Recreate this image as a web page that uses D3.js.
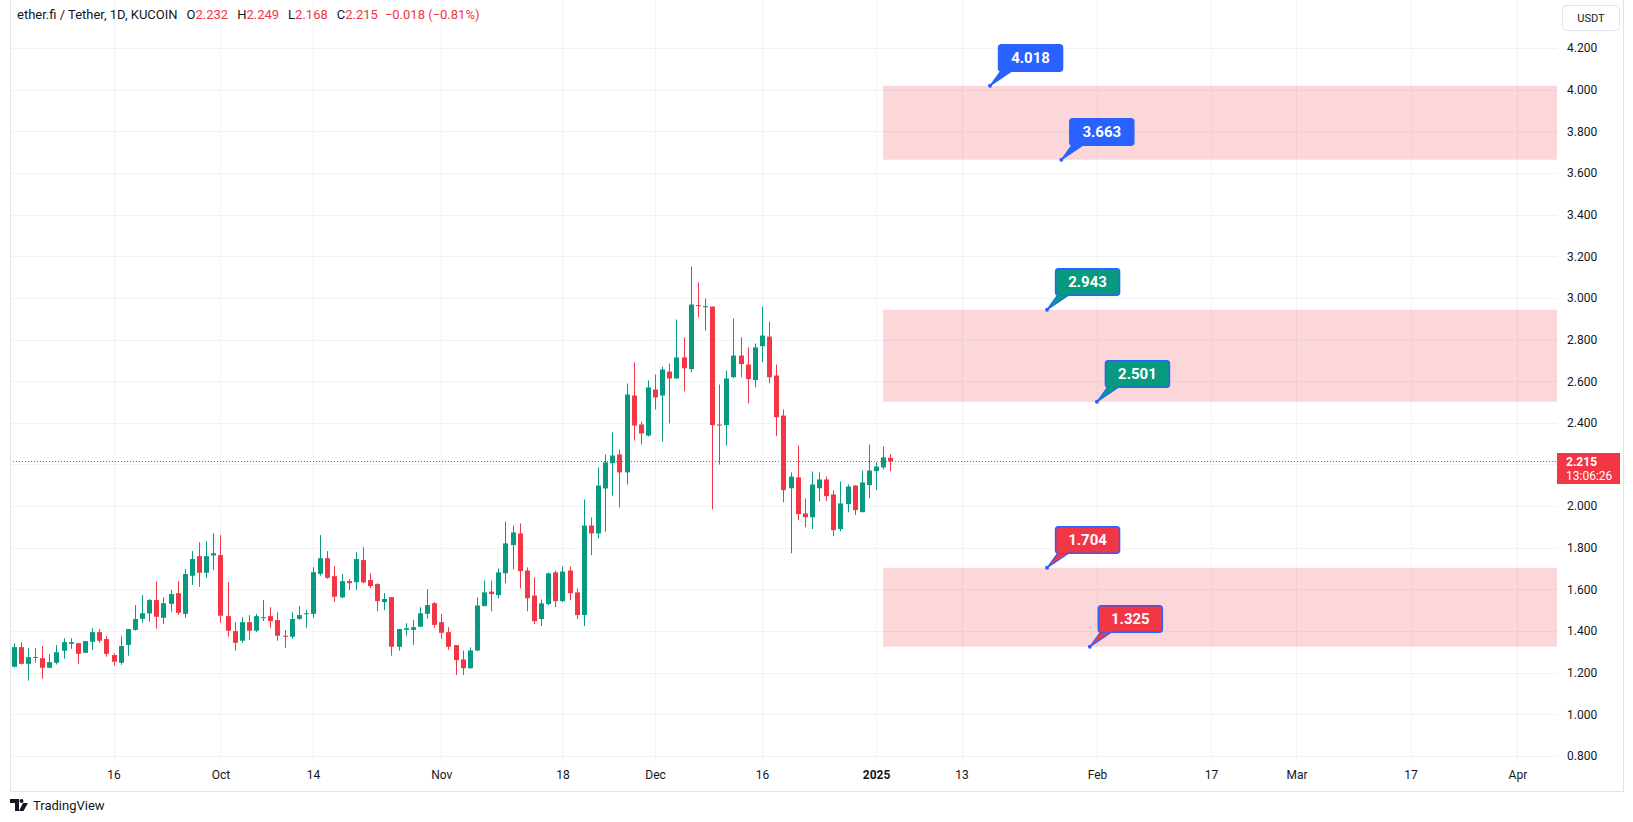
<!DOCTYPE html>
<html><head><meta charset="utf-8">
<script src="https://cdn.jsdelivr.net/npm/d3@7"></script>
<style>
body{margin:0;background:#fff;}
svg{display:block;font-family:Roboto,"Noto Sans",sans-serif;}
</style></head><body>
<svg id="c" width="1633" height="822"></svg>
<script>
// ---------- data ----------
const startDate = "2024-09-02"; // first daily candle
const openV = [1.229,1.323,1.243,1.276,1.270,1.224,1.248,1.306,1.339,1.342,1.296,1.349,1.395,1.362,1.285,1.248,1.334,1.406,1.459,1.485,1.549,1.464,1.531,1.582,1.483,1.666,1.760,1.680,1.763,1.765,1.472,1.400,1.354,1.443,1.402,1.462,1.472,1.453,1.378,1.373,1.459,1.482,1.483,1.675,1.750,1.664,1.562,1.640,1.635,1.741,1.645,1.626,1.539,1.563,1.325,1.406,1.406,1.421,1.483,1.534,1.443,1.395,1.333,1.264,1.222,1.307,1.520,1.590,1.573,1.678,1.813,1.869,1.691,1.571,1.458,1.530,1.682,1.544,1.691,1.586,1.477,1.907,1.869,2.085,2.206,2.248,2.162,2.531,2.392,2.339,2.560,2.531,2.646,2.613,2.714,2.658,2.965,2.955,2.958,2.392,2.389,2.619,2.723,2.680,2.605,2.768,2.814,2.627,2.435,2.086,2.138,1.965,1.947,2.086,2.128,2.056,1.890,2.010,2.099,1.971,2.101,2.168,2.186,2.232];
const highV = [1.342,1.347,1.318,1.318,1.328,1.290,1.333,1.366,1.366,1.342,1.353,1.414,1.410,1.376,1.294,1.376,1.410,1.525,1.573,1.554,1.640,1.563,1.597,1.640,1.698,1.784,1.827,1.832,1.870,1.861,1.635,1.443,1.467,1.477,1.482,1.549,1.515,1.491,1.405,1.491,1.520,1.501,1.707,1.861,1.784,1.712,1.674,1.650,1.779,1.803,1.678,1.630,1.582,1.563,1.410,1.438,1.453,1.515,1.602,1.539,1.482,1.419,1.333,1.307,1.322,1.562,1.643,1.643,1.701,1.926,1.907,1.917,1.706,1.658,1.552,1.682,1.691,1.710,1.710,1.605,2.032,1.946,2.186,2.248,2.354,2.272,2.589,2.690,2.406,2.603,2.632,2.670,2.685,2.896,2.810,3.150,3.074,2.997,2.958,2.584,2.651,2.901,2.810,2.762,2.781,2.958,2.886,2.680,2.464,2.162,2.291,2.037,2.166,2.162,2.142,2.075,2.118,2.104,2.099,2.171,2.296,2.210,2.286,2.249];
const lowV = [1.225,1.240,1.162,1.248,1.171,1.222,1.240,1.267,1.315,1.243,1.295,1.310,1.344,1.277,1.234,1.238,1.282,1.402,1.440,1.445,1.411,1.435,1.493,1.478,1.464,1.622,1.613,1.656,1.693,1.440,1.373,1.306,1.344,1.358,1.395,1.448,1.416,1.354,1.320,1.363,1.454,1.416,1.464,1.666,1.651,1.541,1.558,1.597,1.597,1.629,1.606,1.496,1.501,1.282,1.306,1.378,1.334,1.421,1.459,1.416,1.363,1.310,1.190,1.189,1.220,1.304,1.520,1.496,1.558,1.630,1.696,1.605,1.496,1.434,1.424,1.525,1.515,1.539,1.549,1.458,1.424,1.765,1.845,1.878,2.051,1.994,2.104,2.315,2.296,2.334,2.464,2.310,2.397,2.613,2.552,2.643,2.907,2.843,1.984,2.200,2.291,2.614,2.619,2.494,2.571,2.691,2.590,2.336,2.019,1.774,1.933,1.899,1.890,2.024,2.024,1.856,1.880,1.971,1.957,1.971,2.038,2.077,2.176,2.168];
const closeV = [1.323,1.243,1.275,1.272,1.224,1.251,1.299,1.347,1.347,1.291,1.352,1.395,1.354,1.291,1.253,1.328,1.410,1.458,1.486,1.549,1.469,1.534,1.578,1.488,1.674,1.746,1.680,1.760,1.774,1.474,1.402,1.344,1.443,1.402,1.472,1.467,1.448,1.378,1.373,1.458,1.477,1.486,1.683,1.750,1.656,1.565,1.640,1.630,1.746,1.634,1.616,1.544,1.554,1.325,1.410,1.414,1.419,1.486,1.525,1.430,1.392,1.325,1.261,1.222,1.307,1.523,1.586,1.578,1.682,1.821,1.874,1.688,1.558,1.448,1.533,1.677,1.544,1.686,1.582,1.477,1.907,1.869,2.099,2.210,2.243,2.162,2.536,2.387,2.349,2.570,2.522,2.656,2.613,2.714,2.662,2.968,2.960,2.960,2.389,2.387,2.613,2.723,2.682,2.610,2.762,2.819,2.619,2.427,2.077,2.142,1.962,1.947,2.104,2.128,2.048,1.885,2.013,2.094,1.981,2.114,2.171,2.190,2.234,2.215];

const tickDates = ["2024-09-16","2024-10-01","2024-10-14","2024-11-01","2024-11-18","2024-12-01","2024-12-16","2025-01-01","2025-01-13","2025-02-01","2025-02-17","2025-03-01","2025-03-17","2025-04-01"];
const tickLabels = ["16","Oct","14","Nov","18","Dec","16","2025","13","Feb","17","Mar","17","Apr"];
const priceTicks = [0.8,1.0,1.2,1.4,1.6,1.8,2.0,2.2,2.4,2.6,2.8,3.0,3.2,3.4,3.6,3.8,4.0,4.2];

const zoneTop = [4.018, 2.943, 1.704];
const zoneBottom = [3.663, 2.501, 1.325];
const zoneStart = "2025-01-02";

const calloutValues = [4.018, 3.663, 2.943, 2.501, 1.704, 1.325];
const calloutDates = ["2025-01-17","2025-01-27","2025-01-25","2025-02-01","2025-01-25","2025-01-31"];
const calloutKinds = ["blue","blue","green","green","red","red"];

const lastPrice = 2.215;
const countdown = "13:06:26";
const legendTitle = "ether.fi / Tether, 1D, KUCOIN";
const legendOHLC = [["O","2.232"],["H","2.249"],["L","2.168"],["C","2.215"]];
const legendChange = "\u22120.018 (\u22120.81%)";

// ---------- setup ----------
const W = 1633, H = 822;
const paneL = 10, paneR = 1557, paneT = 0, paneB = 762;
const GREEN = "#089981", RED = "#f23645", BLUE = "#2962ff", TEXT = "#131722", GRID = "#f0f3fa";
const parse = d3.utcParse("%Y-%m-%d");
const start = parse(startDate);
const dates = openV.map((_, i) => d3.utcDay.offset(start, i));

const x = d3.scaleUtc()
  .domain([parse("2024-09-16"), parse("2025-04-01")])
  .range([113.5, 1517.4]);
const y = d3.scaleLinear().domain([0.8, 4.2]).range([756.1, 47.9]);

const svg = d3.select("#c");
svg.append("rect").attr("width", W).attr("height", H).attr("fill", "#fff");

svg.append("defs").append("clipPath").attr("id", "pane")
  .append("rect").attr("x", paneL).attr("y", paneT).attr("width", paneR - paneL).attr("height", paneB - paneT);

const pane = svg.append("g").attr("clip-path", "url(#pane)");

// grid
pane.append("g").selectAll("line.h").data(priceTicks).join("line")
  .attr("x1", paneL).attr("x2", paneR)
  .attr("y1", d => Math.round(y(d)) + 0.5).attr("y2", d => Math.round(y(d)) + 0.5)
  .attr("stroke", GRID).attr("stroke-width", 1);
pane.append("g").selectAll("line.v").data(tickDates).join("line")
  .attr("x1", d => Math.round(x(parse(d))) + 0.5).attr("x2", d => Math.round(x(parse(d))) + 0.5)
  .attr("y1", paneT).attr("y2", paneB)
  .attr("stroke", GRID).attr("stroke-width", 1);

// zones
pane.append("g").selectAll("rect").data(zoneTop).join("rect")
  .attr("x", x(parse(zoneStart)))
  .attr("width", paneR - x(parse(zoneStart)))
  .attr("y", d => y(d))
  .attr("height", (d, i) => y(zoneBottom[i]) - y(d))
  .attr("fill", "rgba(242,54,69,0.2)");

// last price line
pane.append("line")
  .attr("x1", paneL).attr("x2", paneR)
  .attr("y1", Math.round(y(lastPrice)) + 0.5).attr("y2", Math.round(y(lastPrice)) + 0.5)
  .attr("stroke", RED).attr("stroke-width", 1).attr("stroke-dasharray", "1,2");

// candles
const bw = 5;
const cg = pane.append("g");
const idx = d3.range(openV.length);
cg.selectAll("line").data(idx).join("line")
  .attr("x1", i => Math.round(x(dates[i])) + 0.5)
  .attr("x2", i => Math.round(x(dates[i])) + 0.5)
  .attr("y1", i => y(highV[i])).attr("y2", i => y(lowV[i]))
  .attr("stroke", i => closeV[i] >= openV[i] ? GREEN : RED).attr("stroke-width", 1);
cg.selectAll("rect").data(idx).join("rect")
  .attr("x", i => Math.round(x(dates[i])) - 2)
  .attr("width", bw)
  .attr("y", i => y(Math.max(openV[i], closeV[i])))
  .attr("height", i => Math.max(1, Math.abs(y(openV[i]) - y(closeV[i]))))
  .attr("fill", i => closeV[i] >= openV[i] ? GREEN : RED);

// callouts
const kindFill = {blue: BLUE, green: GREEN, red: RED};
const cgc = pane.append("g");
calloutValues.forEach((v, i) => {
  const ax = x(parse(calloutDates[i])), ay = y(v);
  const bx = ax + 8.5, by = ay - 41, bwid = 64, bh = 26.5;
  const g = cgc.append("g");
  g.append("path")
    .attr("d", `M${ax},${ay} L${bx + 2},${by + bh} L${bx + 13},${by + bh} Z`)
    .attr("fill", kindFill[calloutKinds[i]]).attr("stroke", BLUE).attr("stroke-width", 1.2)
    .attr("stroke-linejoin", "round");
  g.append("rect").attr("x", bx).attr("y", by).attr("width", bwid).attr("height", bh)
    .attr("rx", 3).attr("fill", kindFill[calloutKinds[i]]).attr("stroke", BLUE).attr("stroke-width", 1.5);
  g.append("path")
    .attr("d", `M${bx + 2.5},${by + bh - 1} L${bx + 12.5},${by + bh - 1}`)
    .attr("stroke", kindFill[calloutKinds[i]]).attr("stroke-width", 2);
  g.append("circle").attr("cx", ax).attr("cy", ay).attr("r", 2).attr("fill", BLUE);
  g.append("text").attr("x", bx + bwid / 2).attr("y", by + bh / 2).attr("dy", "0.36em")
    .attr("text-anchor", "middle").attr("fill", "#fff")
    .attr("font-size", 15).attr("font-weight", 700).text(v.toFixed(3));
});

// price axis
const ya = svg.append("g").attr("transform", `translate(${paneR},0)`)
  .call(d3.axisRight(y).tickValues(priceTicks).tickFormat(d3.format(".3f")).tickSize(0).tickPadding(10));
ya.select(".domain").remove();
ya.selectAll("text").attr("fill", TEXT).attr("font-size", 12).attr("font-family", "Roboto,sans-serif");

// last price label
const lp = svg.append("g");
lp.append("rect").attr("x", paneR).attr("y", 453).attr("width", 63).attr("height", 31).attr("fill", RED);
lp.append("text").attr("x", 1566).attr("y", 466).attr("fill", "#fff").attr("font-size", 12).attr("font-weight", 700).text(lastPrice.toFixed(3));
lp.append("text").attr("x", 1566).attr("y", 480).attr("fill", "#fff").attr("font-size", 12).text(countdown);

// time axis
const xa = svg.append("g").attr("transform", `translate(0,${paneB})`)
  .call(d3.axisBottom(x).tickValues(tickDates.map(parse)).tickFormat((d, i) => tickLabels[i]).tickSize(0).tickPadding(8));
xa.select(".domain").remove();
xa.selectAll("text").attr("fill", TEXT).attr("font-size", 12).attr("font-family", "Roboto,sans-serif")
  .attr("font-weight", (d, i) => tickLabels[i] === "2025" ? 700 : 400);

// borders
svg.append("path").attr("d", `M${paneL + 0.5},0 V${791.5} H${1623.5} V0`)
  .attr("fill", "none").attr("stroke", "#e0e3eb").attr("stroke-width", 1);

// USDT button
svg.append("rect").attr("x", 1562.5).attr("y", 5.5).attr("width", 57).attr("height", 25).attr("rx", 4)
  .attr("fill", "#fff").attr("stroke", "#e0e3eb");
svg.append("text").attr("x", 1591).attr("y", 18).attr("dy", "0.35em").attr("text-anchor", "middle")
  .attr("font-size", 11).attr("fill", TEXT).text("USDT");

// legend
const lg = svg.append("text").attr("x", 17).attr("y", 19).attr("font-size", 13).attr("fill", TEXT);
lg.append("tspan").text(legendTitle);
legendOHLC.forEach(([k, v], i) => {
  lg.append("tspan").attr("dx", i === 0 ? 9 : 9).attr("fill", TEXT).text(k);
  lg.append("tspan").attr("fill", RED).text(v);
});
lg.append("tspan").attr("dx", 7).attr("fill", RED).text(legendChange);

// TradingView logo
const logo = svg.append("g").attr("fill", TEXT);
logo.append("path").attr("d", "M10,799 H19 V811 H15 V803 H10 Z");
logo.append("circle").attr("cx", 21.5).attr("cy", 801).attr("r", 2);
logo.append("path").attr("d", "M23,803 H28 L23.5,811 H19 Z");
svg.append("text").attr("x", 33).attr("y", 805).attr("dy", "0.35em").attr("font-size", 13)
  .attr("fill", TEXT).text("TradingView");
</script>
</body></html>
